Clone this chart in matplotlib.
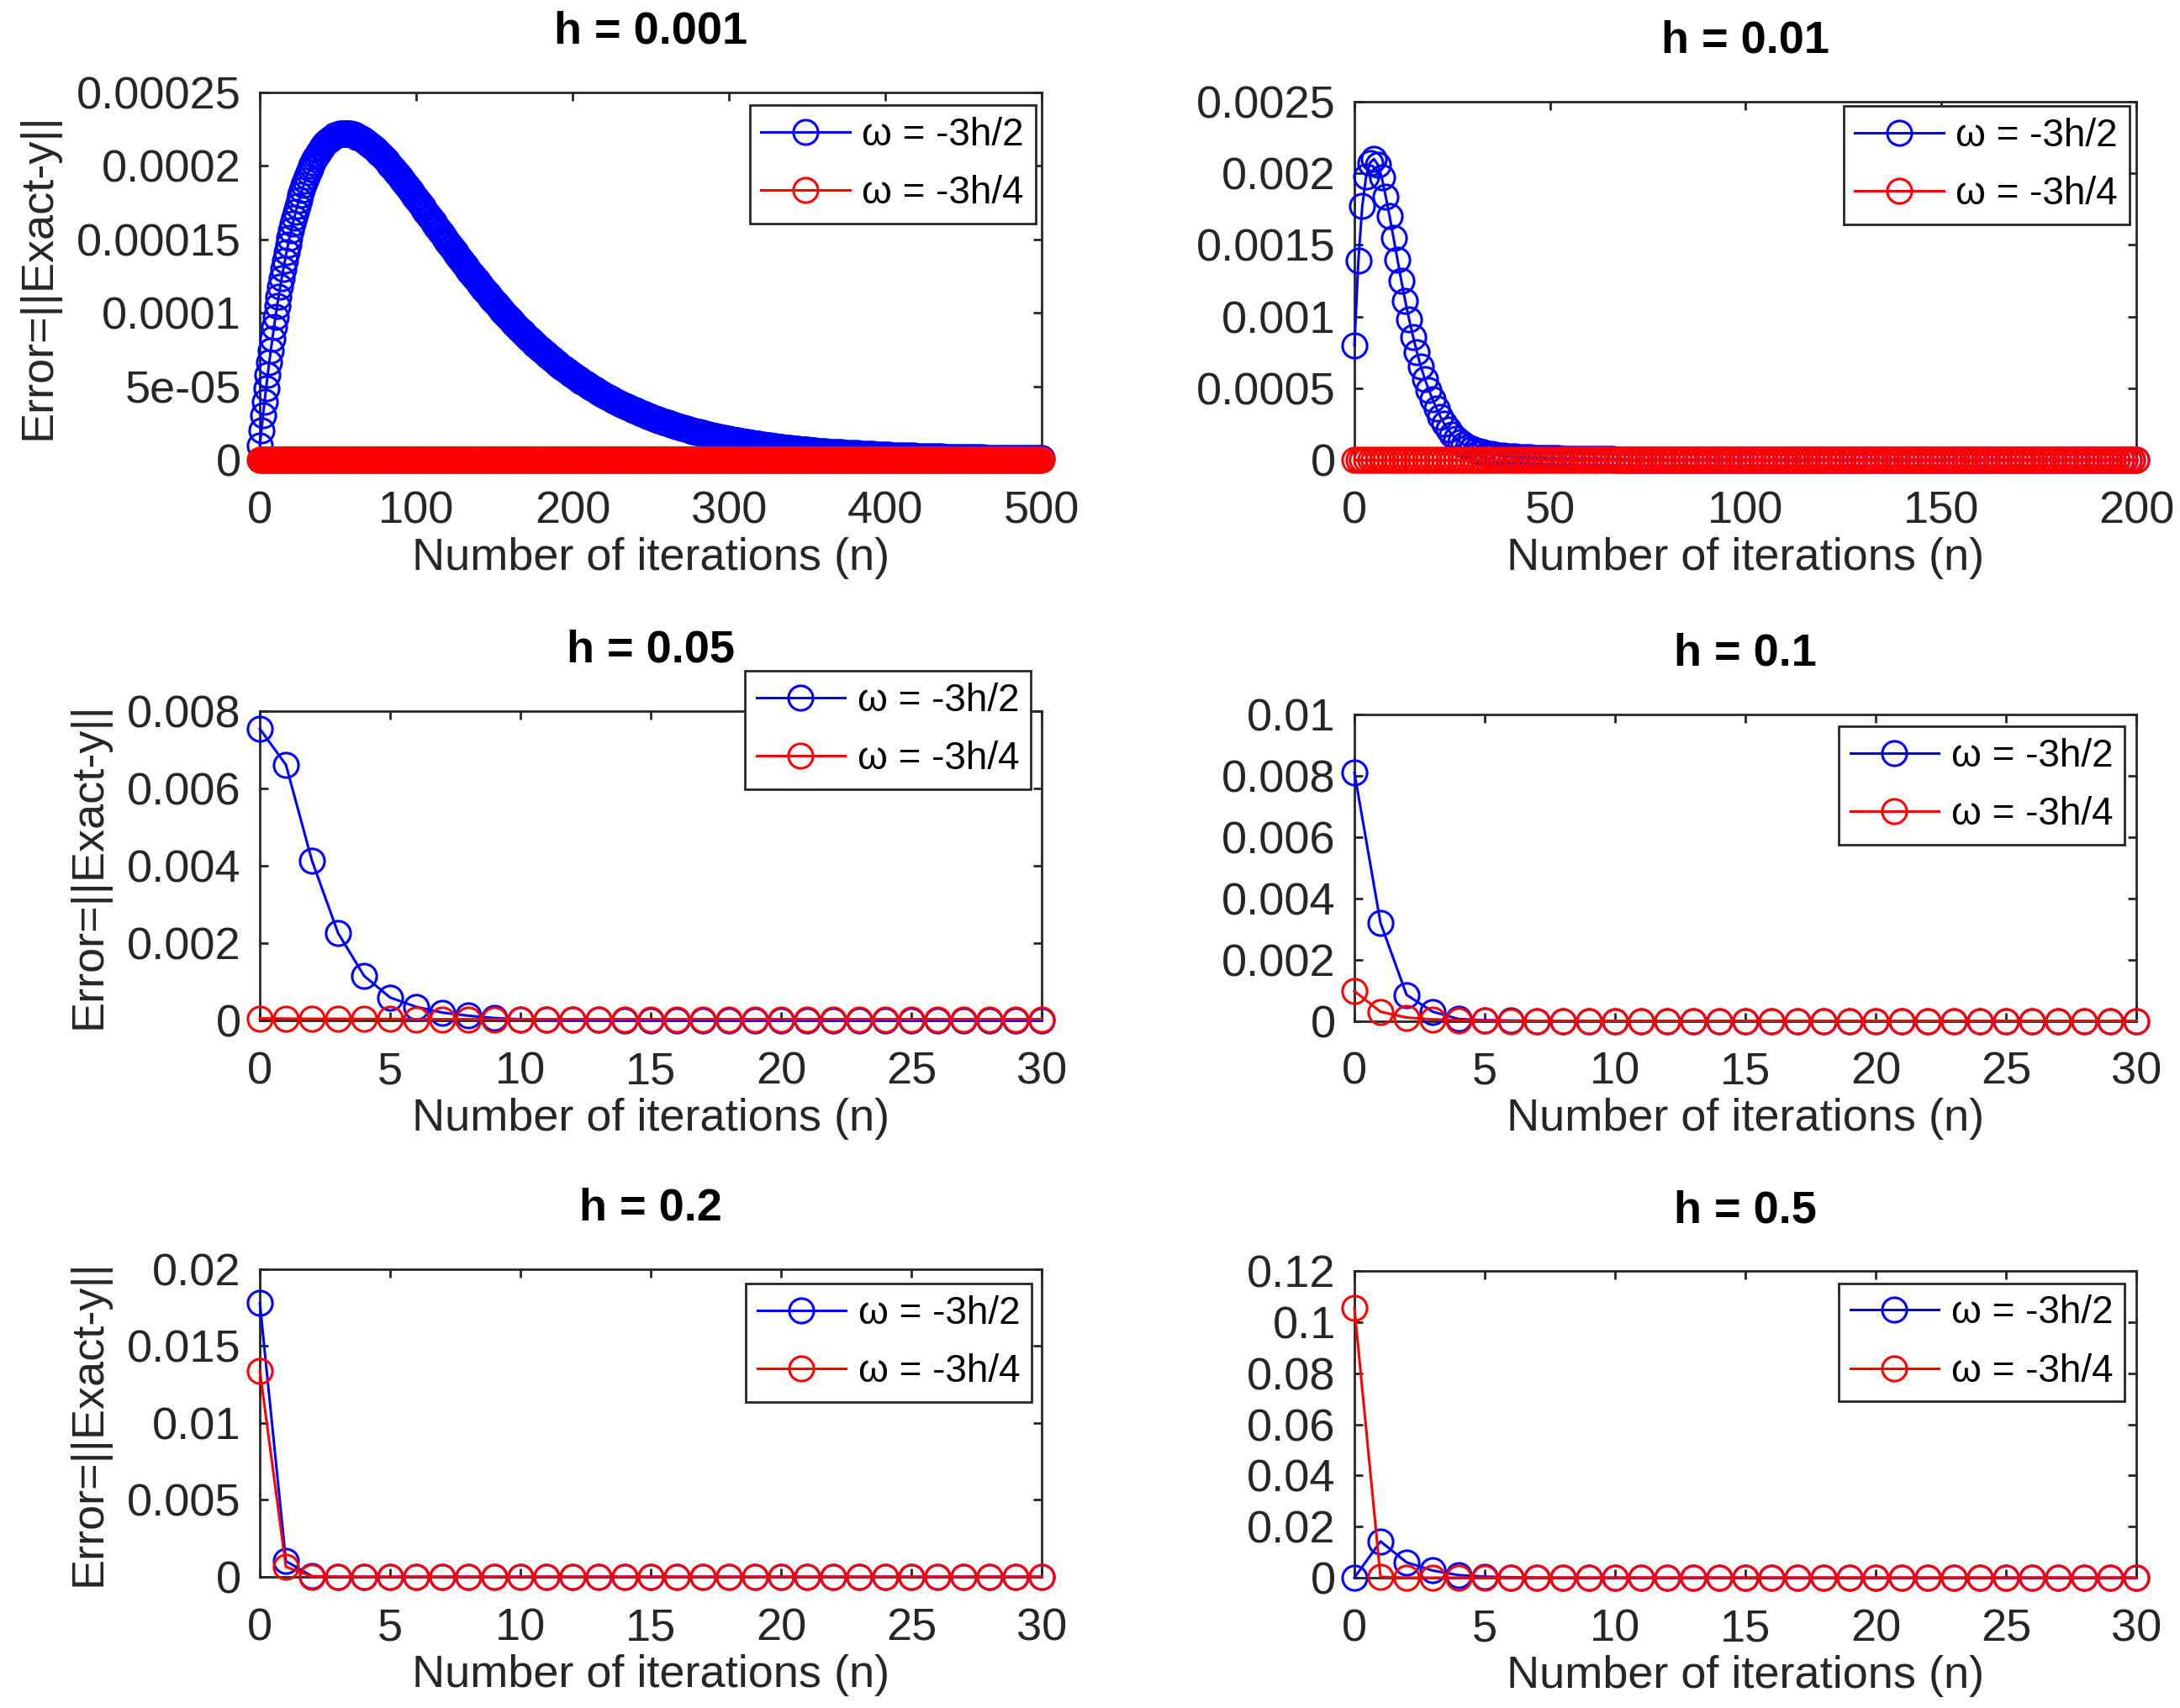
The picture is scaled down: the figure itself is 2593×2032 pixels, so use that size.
import matplotlib
matplotlib.use('Agg')
import matplotlib.pyplot as plt

plt.rcParams['font.family'] = ['Liberation Sans', 'DejaVu Sans']

# ---------------- data ----------------
# h = 0.001 : blue series (values in 1e-6 units)
n_001_blue = list(range(0, 361)) + list(range(362, 501, 2))
blue_001_e6 = [
    # n = 0 .. 60
    10.0, 20.3, 30.2, 39.7, 48.9, 57.8, 66.3, 74.6, 82.5, 90.1,
    97.4, 104.4, 111.2, 117.6, 123.8, 129.8, 135.5, 141.0, 146.2, 151.2,
    155.9, 160.5, 164.8, 169.0, 172.9, 176.7, 180.2, 183.6, 186.8, 189.8,
    192.7, 195.4, 197.9, 200.3, 202.5, 204.6, 206.6, 208.4, 210.1, 211.6,
    213.0, 214.4, 215.6, 216.7, 217.6, 218.5, 219.3, 220.0, 220.6, 221.0,
    221.4, 221.8, 222.0, 222.2, 222.2, 222.2, 222.2, 222.0, 221.8, 221.6,
    221.2,
    # n = 61 .. 360
    220.6, 219.9, 219.4, 218.9, 218.3, 217.7, 217.0, 216.3, 215.5, 214.7,
    213.9, 213.0, 212.1, 211.1, 210.1, 209.0, 208.0, 206.9, 205.8, 204.6,
    203.4, 202.2, 201.0, 199.8, 198.5, 197.2, 195.9, 194.6, 193.3, 191.9,
    190.5, 189.2, 187.8, 186.4, 185.0, 183.5, 182.1, 180.7, 179.2, 177.8,
    176.3, 174.9, 173.4, 171.9, 170.4, 169.0, 167.5, 166.0, 164.5, 163.0,
    161.6, 160.1, 158.6, 157.1, 155.6, 154.2, 152.7, 151.2, 149.8, 148.3,
    146.8, 145.4, 143.9, 142.5, 141.0, 139.6, 138.2, 136.8, 135.3, 133.9,
    132.5, 131.2, 129.8, 128.4, 127.0, 125.6, 124.3, 122.9, 121.6, 120.3,
    118.9, 117.6, 116.3, 115.0, 113.7, 112.5, 111.2, 109.9, 108.7, 107.4,
    106.2, 105.0, 103.8, 102.6, 101.4, 100.2, 99.0, 97.9, 96.7, 95.6,
    94.4, 93.3, 92.2, 91.1, 90.0, 88.9, 87.8, 86.7, 85.7, 84.6,
    83.6, 82.6, 81.6, 80.6, 79.6, 78.6, 77.6, 76.6, 75.7, 74.7,
    73.8, 72.9, 71.9, 71.0, 70.1, 69.2, 68.4, 67.5, 66.6, 65.8,
    64.9, 64.1, 63.2, 62.4, 61.6, 60.8, 60.0, 59.3, 58.5, 57.7,
    57.0, 56.2, 55.5, 54.7, 54.0, 53.3, 52.6, 51.9, 51.2, 50.5,
    49.8, 49.2, 48.5, 47.9, 47.2, 46.6, 45.9, 45.3, 44.7, 44.1,
    43.5, 42.9, 42.4, 41.8, 41.2, 40.7, 40.1, 39.6, 39.0, 38.5,
    37.9, 37.4, 36.9, 36.4, 35.9, 35.4, 34.9, 34.4, 33.9, 33.5,
    33.0, 32.5, 32.1, 31.6, 31.2, 30.8, 30.3, 29.9, 29.5, 29.1,
    28.7, 28.3, 27.9, 27.5, 27.1, 26.7, 26.3, 26.0, 25.6, 25.2,
    24.9, 24.5, 24.2, 23.8, 23.5, 23.1, 22.8, 22.5, 22.1, 21.8,
    21.5, 21.2, 20.9, 20.6, 20.3, 20.0, 19.7, 19.4, 19.1, 18.9,
    18.6, 18.3, 18.1, 17.8, 17.5, 17.3, 17.0, 16.8, 16.5, 16.3,
    16.1, 15.8, 15.6, 15.4, 15.1, 14.9, 14.7, 14.5, 14.3, 14.1,
    13.8, 13.6, 13.4, 13.2, 13.0, 12.9, 12.7, 12.5, 12.3, 12.1,
    11.9, 11.8, 11.6, 11.4, 11.2, 11.1, 10.9, 10.7, 10.6, 10.4,
    10.3, 10.1, 9.9, 9.8, 9.7, 9.5, 9.4, 9.2, 9.1, 9.0,
    8.8, 8.7, 8.6, 8.4, 8.3, 8.2, 8.1, 7.9, 7.8, 7.7,
    7.6, 7.5, 7.4, 7.3, 7.1, 7.0, 6.9, 6.8, 6.7, 6.6,
    6.5, 6.4, 6.3, 6.2, 6.1, 6.0, 5.9, 5.8, 5.75, 5.7,
    # n = 362 .. 500, every 2
    5.5, 5.4, 5.25, 5.1, 5.0, 4.9, 4.75, 4.6, 4.5, 4.4,
    4.3, 4.2, 4.05, 3.95, 3.85, 3.75, 3.65, 3.55, 3.45, 3.35,
    3.25, 3.15, 3.05, 2.95, 2.9, 2.8, 2.75, 2.65, 2.6, 2.5,
    2.45, 2.4, 2.3, 2.25, 2.2, 2.15, 2.1, 2.05, 2.0, 1.95,
    1.9, 1.85, 1.8, 1.75, 1.7, 1.66, 1.62, 1.58, 1.54, 1.5,
    1.46, 1.42, 1.38, 1.34, 1.3, 1.27, 1.24, 1.21, 1.18, 1.15,
    1.12, 1.09, 1.06, 1.03, 1.0, 0.98, 0.96, 0.94, 0.92, 0.9,
]
n_001_red = list(range(0, 501))
red_001_e6 = [0.0] * 501

# h = 0.01 : blue series (values in 1e-6 units), n = 0..200
n_01 = list(range(0, 201))
blue_01_e6 = [
    800, 1390, 1770, 1980, 2075, 2100, 2060, 1970, 1840, 1700,
    1550, 1400, 1250, 1110, 980, 860, 750, 650, 565, 490,
    420, 360, 300, 250, 210, 175, 148, 125, 106, 90,
    77, 66, 57, 50, 44, 39, 35, 31, 28, 25,
    23, 21, 19, 17.5, 16, 15, 14, 13, 12, 11.2,
    10.5, 9.8, 9.2, 8.6, 8.0, 7.4, 6.9, 6.4, 6.0, 5.6,
    5.2, 4.8, 4.5, 4.2, 3.9, 3.6, 3.3, 3.0, 2.7, 2.4,
    2.1,
] + [0.0] * 130
red_01_e6 = [0.0] * 201

# h = 0.05, 0.1, 0.2, 0.5 : n = 0..30 (values in 1e-3 units)
n_30 = list(range(0, 31))
blue_05_e3 = [7.54, 6.61, 4.13, 2.26, 1.15, 0.59, 0.35, 0.20, 0.12, 0.06,
              0.03, 0.02, 0.01, 0.01] + [0.0] * 17
red_05_e3 = [0.05, 0.045, 0.04, 0.04, 0.035, 0.035] + [0.03] * 25
blue_1_e3 = [8.10, 3.20, 0.85, 0.30, 0.06, 0.02, 0.01] + [0.0] * 24
red_1_e3 = [0.97, 0.30, 0.11, 0.05, 0.02, 0.01] + [0.0] * 25
blue_2_e3 = [17.8, 1.02, 0.04] + [0.0] * 28
red_2_e3 = [13.4, 0.65, 0.02] + [0.0] * 28
blue_5_e3 = [0.0, 14.2, 6.0, 2.8, 1.0, 0.4, 0.15, 0.05] + [0.0] * 23
red_5_e3 = [105.6, 0.3] + [0.0] * 29

titles = ['h = 0.001', 'h = 0.01', 'h = 0.05', 'h = 0.1', 'h = 0.2', 'h = 0.5']
labels = ['\u03c9 = -3h/2', '\u03c9 = -3h/4']

yticks_001 = [0, 5e-05, 0.0001, 0.00015, 0.0002, 0.00025]
ytl_001 = ['0', '5e-05', '0.0001', '0.00015', '0.0002', '0.00025']
yticks_01 = [0, 0.0005, 0.001, 0.0015, 0.002, 0.0025]
ytl_01 = ['0', '0.0005', '0.001', '0.0015', '0.002', '0.0025']
yticks_05 = [0, 0.002, 0.004, 0.006, 0.008]
ytl_05 = ['0', '0.002', '0.004', '0.006', '0.008']
yticks_1 = [0, 0.002, 0.004, 0.006, 0.008, 0.01]
ytl_1 = ['0', '0.002', '0.004', '0.006', '0.008', '0.01']
yticks_2 = [0, 0.005, 0.01, 0.015, 0.02]
ytl_2 = ['0', '0.005', '0.01', '0.015', '0.02']
yticks_5 = [0, 0.02, 0.04, 0.06, 0.08, 0.1, 0.12]
ytl_5 = ['0', '0.02', '0.04', '0.06', '0.08', '0.1', '0.12']

# ---------------- figure ----------------
fig = plt.figure(figsize=(25.93, 20.32), dpi=100)
dark = '#262626'
FS = 39

# axes rectangles [left, bottom, width, height] in figure fraction
rects = [
    [0.1192, 0.7308, 0.3587, 0.2151],
    [0.6213, 0.7308, 0.3587, 0.2096],
    [0.1192, 0.4026, 0.3587, 0.1811],
    [0.6213, 0.4023, 0.3587, 0.1794],
    [0.1192, 0.0768, 0.3587, 0.1801],
    [0.6213, 0.0763, 0.3587, 0.1794],
]
# legend upper-right corner in axes fraction
legend_anchor = [(0.992, 0.965), (0.991, 0.989), (0.986, 1.130),
                 (0.985, 0.962), (0.987, 0.954), (0.985, 0.961)]

panels = [
    (n_001_blue, [v * 1e-6 for v in blue_001_e6], n_001_red, [v * 1e-6 for v in red_001_e6],
     500, [0, 100, 200, 300, 400, 500], yticks_001, ytl_001),
    (n_01, [v * 1e-6 for v in blue_01_e6], n_01, [v * 1e-6 for v in red_01_e6],
     200, [0, 50, 100, 150, 200], yticks_01, ytl_01),
    (n_30, [v * 1e-3 for v in blue_05_e3], n_30, [v * 1e-3 for v in red_05_e3],
     30, [0, 5, 10, 15, 20, 25, 30], yticks_05, ytl_05),
    (n_30, [v * 1e-3 for v in blue_1_e3], n_30, [v * 1e-3 for v in red_1_e3],
     30, [0, 5, 10, 15, 20, 25, 30], yticks_1, ytl_1),
    (n_30, [v * 1e-3 for v in blue_2_e3], n_30, [v * 1e-3 for v in red_2_e3],
     30, [0, 5, 10, 15, 20, 25, 30], yticks_2, ytl_2),
    (n_30, [v * 1e-3 for v in blue_5_e3], n_30, [v * 1e-3 for v in red_5_e3],
     30, [0, 5, 10, 15, 20, 25, 30], yticks_5, ytl_5),
]

for i, (nb, yb, nr, yr, xmax, xt, yt, ytl) in enumerate(panels):
    ax = fig.add_axes(rects[i])
    ax.plot(nb, yb, '-o', color='#0000FF', mfc='none', ms=21, mew=2.2, lw=2.2,
            clip_on=False, zorder=3, label=labels[0])
    ax.plot(nr, yr, '-o', color='#FF0000', mfc='none', ms=21, mew=2.2, lw=2.2,
            clip_on=False, zorder=4, label=labels[1])
    ax.set_xlim(0, xmax)
    ax.set_ylim(yt[0], yt[-1])
    ax.set_xticks(xt)
    ax.set_xticklabels([str(t) for t in xt])
    ax.set_yticks(yt)
    ax.set_yticklabels(ytl)
    ax.tick_params(direction='in', length=7, width=2, top=True, right=True,
                   labelsize=FS, colors=dark, labelcolor=dark)
    ax.tick_params(axis='x', pad=26)
    ax.tick_params(axis='y', pad=16)
    for s in ax.spines.values():
        s.set_linewidth(2)
        s.set_color(dark)
        s.set_zorder(2.5)
    ax.set_xlabel('Number of iterations (n)', fontsize=FS, color=dark, labelpad=4)
    if i % 2 == 0:
        ax.set_ylabel('Error=||Exact-y||', fontsize=FS, color=dark, labelpad=15)
    ax.set_title(titles[i], fontsize=FS, fontweight='bold', pad=42)
    leg = ax.legend(loc='upper right', bbox_to_anchor=legend_anchor[i], borderaxespad=0,
                    fontsize=33, fancybox=False, framealpha=1, edgecolor=dark,
                    handlelength=2.3, handletextpad=0.32, borderpad=0.3, labelspacing=0.55)
    leg.get_frame().set_linewidth(2)
    leg.set_zorder(10)

fig.savefig('out.png', dpi=100)
